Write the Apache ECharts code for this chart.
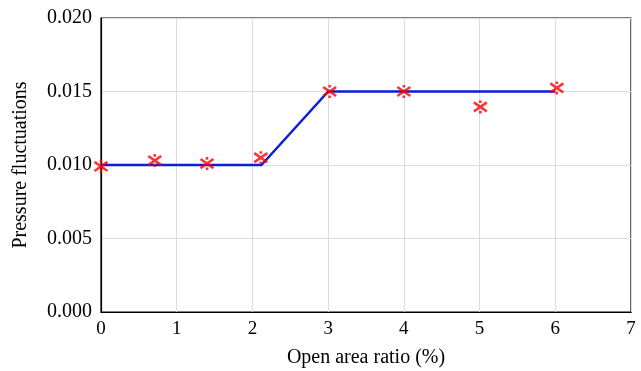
<!DOCTYPE html>
<html>
<head>
<meta charset="utf-8">
<script src="https://cdn.jsdelivr.net/npm/echarts@6/dist/echarts.min.js"></script>
<style>
  html, body { margin: 0; padding: 0; background: #fff; }
  #chart { width: 641px; height: 371px; }
</style>
</head>
<body>
<div id="chart"></div>
<script>
// fitted trend line (open area ratio %, pressure fluctuation)
var lineX = [0, 2.12, 3, 6];
var lineY = [0.0100, 0.0100, 0.0150, 0.0150];
// measured points
var markX = [0, 0.71, 1.4, 2.11, 3.02, 4.0, 5.01, 6.02];
var markY = [0.0099, 0.0103, 0.0101, 0.0105, 0.0150, 0.0150, 0.01395, 0.01524];
// tick labels
var xTicks = [0, 1, 2, 3, 4, 5, 6, 7];
var yTicks = [0, 0.005, 0.010, 0.015, 0.020];

var font = 'Liberation Serif';

function pairs(xs, ys) {
    return xs.map(function (x, i) { return [x, ys[i]]; });
}

var chart = echarts.init(document.getElementById('chart'));
var option = {
    animation: false,
    grid: {
        left: 101,
        right: 10,
        top: 18,
        bottom: 59,
        outerBoundsMode: 'none',
        containLabel: false,
        show: true,
        borderColor: '#000',
        borderWidth: 1.2
    },
    xAxis: {
        type: 'value',
        min: xTicks[0],
        max: xTicks[xTicks.length - 1],
        interval: 1,
        name: 'Open area ratio (%)',
        nameLocation: 'middle',
        nameGap: 36,
        nameTextStyle: { fontFamily: font, fontSize: 20, color: '#000' },
        axisLine: { show: true, lineStyle: { color: '#000', width: 1.2 } },
        axisTick: { show: false },
        axisLabel: { fontFamily: font, fontSize: 19, color: '#000', margin: 8 },
        splitLine: { lineStyle: { color: '#dcdcdc' } }
    },
    yAxis: {
        type: 'value',
        min: yTicks[0],
        max: yTicks[yTicks.length - 1],
        interval: 0.005,
        name: 'Pressure fluctuations',
        nameLocation: 'middle',
        nameGap: 70,
        nameTextStyle: { fontFamily: font, fontSize: 20, color: '#000' },
        axisLine: { show: true, lineStyle: { color: '#000', width: 1.2 } },
        axisTick: { show: false },
        axisLabel: {
            fontFamily: font, fontSize: 20, color: '#000', margin: 9,
            formatter: function (v) { return v.toFixed(3); }
        },
        splitLine: { lineStyle: { color: '#dcdcdc' } }
    },
    series: [{
        type: 'line',
        data: pairs(lineX, lineY),
        symbol: 'none',
        lineStyle: { color: '#0a1ed2', width: 2.5 },
        z: 2
    }, {
        type: 'scatter',
        data: pairs(markX, markY),
        symbol: 'path://M1,1.5 L9,8.5 M1,8.5 L9,1.5 M5,0 L5,2 M5,8 L5,10',
        symbolSize: 13,
        itemStyle: { color: '#ff0000', borderColor: '#ff0000', borderWidth: 2.6 },
        z: 3
    }]
};
chart.setOption(option);
</script>
</body>
</html>
